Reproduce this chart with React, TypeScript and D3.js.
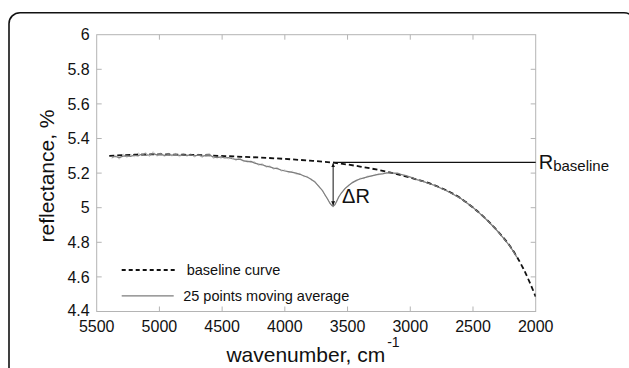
import { useEffect, useRef } from "react";
import * as d3 from "d3";

// wavenumber grid (cm^-1) for the averaged spectrum
const avgWn = [
    5380, 5350, 5320, 5290, 5260, 5230, 5200, 5170, 5140, 5110, 5080, 5050, 5020, 4990, 4960, 4930, 4900, 4870, 4840, 4810,
    4780, 4750, 4720, 4690, 4660, 4630, 4600, 4570, 4540, 4510, 4480, 4450, 4420, 4390, 4360, 4330, 4300, 4270, 4240, 4210,
    4180, 4150, 4120, 4090, 4060, 4030, 4000, 3970, 3940, 3910, 3880, 3850, 3820, 3790, 3760, 3730, 3700, 3680, 3660, 3640,
    3625, 3615, 3600, 3585, 3570, 3550, 3520, 3490, 3460, 3430, 3400, 3370, 3340, 3310, 3280, 3250, 3220, 3190, 3160, 3130,
    3100, 3070, 3040, 3010, 2980, 2950, 2900, 2850, 2800, 2750, 2700, 2650, 2600, 2550, 2500, 2450, 2400, 2350, 2300, 2250,
    2200, 2150,
];

// 25 points moving average, reflectance %
const avgR = [
    5.292, 5.296, 5.290, 5.298, 5.300, 5.297, 5.303, 5.300, 5.310, 5.302, 5.306, 5.312, 5.305, 5.308, 5.303, 5.307, 5.304, 5.308, 5.302, 5.306,
    5.303, 5.305, 5.300, 5.304, 5.298, 5.301, 5.304, 5.293, 5.290, 5.294, 5.288, 5.290, 5.283, 5.279, 5.281, 5.272, 5.266, 5.268, 5.258, 5.252,
    5.248, 5.240, 5.236, 5.229, 5.226, 5.218, 5.212, 5.209, 5.204, 5.200, 5.193, 5.185, 5.176, 5.165, 5.148, 5.125, 5.098, 5.075, 5.050, 5.026,
    5.012, 5.008, 5.018, 5.040, 5.062, 5.085, 5.110, 5.130, 5.145, 5.158, 5.166, 5.172, 5.178, 5.184, 5.188, 5.194, 5.196, 5.201, 5.202, 5.200,
    5.198, 5.192, 5.186, 5.180, 5.172, 5.163, 5.152, 5.140, 5.127, 5.111, 5.094, 5.075, 5.054, 5.029, 5.001, 4.970, 4.936, 4.900, 4.861, 4.818,
    4.772, 4.714,
];

// raw (unsmoothed) reflectance on the same grid
const rawR = [
    5.283, 5.305, 5.280, 5.311, 5.290, 5.308, 5.294, 5.317, 5.301, 5.320, 5.295, 5.324, 5.297, 5.317, 5.294, 5.316, 5.298, 5.315, 5.293, 5.313,
    5.296, 5.314, 5.292, 5.311, 5.289, 5.309, 5.314, 5.284, 5.298, 5.285, 5.297, 5.282, 5.291, 5.272, 5.289, 5.265, 5.274, 5.260, 5.266, 5.244,
    5.256, 5.233, 5.243, 5.222, 5.233, 5.211, 5.219, 5.202, 5.211, 5.193, 5.199, 5.179, 5.182, 5.158, 5.154, 5.119, 5.103, 5.070, 5.055, 5.021,
    5.015, 5.003, 5.022, 5.036, 5.067, 5.081, 5.115, 5.126, 5.150, 5.154, 5.171, 5.168, 5.183, 5.180, 5.193, 5.190, 5.201, 5.197, 5.206, 5.196,
    5.202, 5.189, 5.189, 5.177, 5.175, 5.160, 5.155, 5.137, 5.129, 5.108, 5.097, 5.072, 5.057, 5.026, 5.004, 4.967, 4.939, 4.897, 4.864, 4.815,
    4.775, 4.711,
];

// fitted baseline curve
const baseWn = [5400, 5200, 5000, 4800, 4600, 4400, 4200, 4000, 3800, 3600, 3400, 3200, 3000, 2800, 2600, 2500, 2400, 2300, 2200, 2100, 2000];
const baseR = [5.300, 5.306, 5.308, 5.306, 5.302, 5.296, 5.290, 5.282, 5.272, 5.259, 5.238, 5.210, 5.174, 5.128, 5.055, 5.001, 4.937, 4.862, 4.773, 4.650, 4.486];

const xTicks = [5500, 5000, 4500, 4000, 3500, 3000, 2500, 2000];
const yTicks = [4.4, 4.6, 4.8, 5, 5.2, 5.4, 5.6, 5.8, 6];

// ΔR marker
const peakWn = 3615;
const peakR = 5.008;
const peakBaseR = 5.262;

const FONT = "'Liberation Sans', Arial, Helvetica, sans-serif";

export default function App ()
{
    const svgRef = useRef<SVGSVGElement>( null );

    useEffect( () =>
    {
        if ( !svgRef.current ) return;
        const svg = d3.select( svgRef.current );
        svg.selectAll( "*" ).remove();

        const W = 629, H = 368;
        const m = { top: 34.7, right: W - 535.7, bottom: H - 311.5, left: 96.7 };
        const w = W - m.left - m.right;
        const h = H - m.top - m.bottom;

        // outer rounded frame
        svg.append( "rect" ).attr( "x", 9 ).attr( "y", 12.7 ).attr( "width", 626 ).attr( "height", 420 )
            .attr( "rx", 11 ).attr( "fill", "#fff" ).attr( "stroke", "#111" ).attr( "stroke-width", 1.6 );

        const g = svg.append( "g" ).attr( "transform", `translate(${ m.left },${ m.top })` );

        const x = d3.scaleLinear().domain( [ 5500, 2000 ] ).range( [ 0, w ] );
        const y = d3.scaleLinear().domain( [ 4.4, 6 ] ).range( [ h, 0 ] );

        const defs = svg.append( "defs" );
        defs.append( "clipPath" ).attr( "id", "plot" ).append( "rect" ).attr( "width", w ).attr( "height", h );
        defs.append( "marker" ).attr( "id", "arr" ).attr( "viewBox", "0 0 10 10" ).attr( "refX", 10 ).attr( "refY", 5 )
            .attr( "markerWidth", 4 ).attr( "markerHeight", 4 ).attr( "orient", "auto-start-reverse" )
            .append( "path" ).attr( "d", "M0,0L10,5L0,10z" ).attr( "fill", "#111" );

        // frame box + inward ticks
        const axisColor = "#b4b4b4";
        g.append( "rect" ).attr( "width", w ).attr( "height", h ).attr( "fill", "none" ).attr( "stroke", axisColor ).attr( "stroke-width", 1 );
        const tl = 5;
        g.append( "g" ).selectAll( "line" ).data( xTicks.slice( 1, -1 ) ).join( "line" )
            .attr( "x1", ( d ) => x( d ) ).attr( "x2", ( d ) => x( d ) ).attr( "y1", h ).attr( "y2", h - tl )
            .attr( "stroke", axisColor );
        g.append( "g" ).selectAll( "line" ).data( xTicks.slice( 1, -1 ) ).join( "line" )
            .attr( "x1", ( d ) => x( d ) ).attr( "x2", ( d ) => x( d ) ).attr( "y1", 0 ).attr( "y2", tl )
            .attr( "stroke", axisColor );
        g.append( "g" ).selectAll( "line" ).data( yTicks.slice( 1, -1 ) ).join( "line" )
            .attr( "x1", 0 ).attr( "x2", tl ).attr( "y1", ( d ) => y( d ) ).attr( "y2", ( d ) => y( d ) )
            .attr( "stroke", axisColor );
        g.append( "g" ).selectAll( "line" ).data( yTicks.slice( 1, -1 ) ).join( "line" )
            .attr( "x1", w ).attr( "x2", w - tl ).attr( "y1", ( d ) => y( d ) ).attr( "y2", ( d ) => y( d ) )
            .attr( "stroke", axisColor );

        // tick labels
        g.append( "g" ).selectAll( "text" ).data( yTicks ).join( "text" )
            .attr( "x", -7 ).attr( "y", ( d ) => y( d ) + ( d === 4.4 ? -1 : 0 ) ).attr( "dy", "0.36em" )
            .attr( "text-anchor", "end" ).attr( "font-size", 16 ).attr( "font-family", FONT ).attr( "fill", "#111" )
            .text( ( d ) => d3.format( "~g" )( d ) );
        g.append( "g" ).selectAll( "text" ).data( xTicks ).join( "text" )
            .attr( "x", ( d ) => x( d ) ).attr( "y", h + 21 )
            .attr( "text-anchor", "middle" ).attr( "font-size", 16 ).attr( "font-family", FONT ).attr( "fill", "#111" )
            .text( ( d ) => d );

        const pts = ( wn: number[], r: number[] ) => wn.map( ( d, i ) => [ d, r[ i ] ] as [ number, number ] );
        const line = d3.line<[ number, number ]>().x( ( d ) => x( d[ 0 ] ) ).y( ( d ) => y( d[ 1 ] ) );

        const plot = g.append( "g" ).attr( "clip-path", "url(#plot)" );

        // raw spectrum
        plot.append( "path" ).attr( "d", line( pts( avgWn, rawR ) ) )
            .attr( "fill", "none" ).attr( "stroke", "#c6c6c6" ).attr( "stroke-width", 0.9 );

        // baseline curve
        plot.append( "path" ).attr( "d", line.curve( d3.curveMonotoneX )( pts( baseWn, baseR ) ) )
            .attr( "fill", "none" ).attr( "stroke", "#111" ).attr( "stroke-width", 1.8 ).attr( "stroke-dasharray", "5,3" );

        // moving average
        plot.append( "path" ).attr( "d", line.curve( d3.curveLinear )( pts( avgWn, avgR ) ) )
            .attr( "fill", "none" ).attr( "stroke", "#7d7d7d" ).attr( "stroke-width", 1.2 );

        // R baseline level line
        g.append( "line" ).attr( "x1", x( peakWn ) ).attr( "x2", w ).attr( "y1", y( peakBaseR ) ).attr( "y2", y( peakBaseR ) )
            .attr( "stroke", "#111" ).attr( "stroke-width", 1.1 );

        // ΔR arrow
        g.append( "line" ).attr( "x1", x( peakWn ) ).attr( "x2", x( peakWn ) ).attr( "y1", y( peakBaseR ) + 1 ).attr( "y2", y( peakR ) - 1 )
            .attr( "stroke", "#111" ).attr( "stroke-width", 1 )
            .attr( "marker-start", "url(#arr)" ).attr( "marker-end", "url(#arr)" );

        g.append( "text" ).attr( "x", x( peakWn ) + 9 ).attr( "y", y( peakR ) - 3 )
            .attr( "font-size", 20 ).attr( "font-family", FONT ).attr( "fill", "#111" ).text( "ΔR" );

        const rb = g.append( "text" ).attr( "x", w + 3 ).attr( "y", y( peakBaseR ) + 7 )
            .attr( "font-size", 20 ).attr( "font-family", FONT ).attr( "fill", "#111" );
        rb.append( "tspan" ).text( "R" );
        rb.append( "tspan" ).attr( "font-size", 15 ).attr( "dy", 2 ).text( "baseline" );

        // legend
        const lg = g.append( "g" ).attr( "font-family", FONT ).attr( "font-size", 14.5 ).attr( "fill", "#111" );
        const ly1 = y( 4.64 ), ly2 = y( 4.49 );
        lg.append( "line" ).attr( "x1", 25 ).attr( "x2", 78 ).attr( "y1", ly1 ).attr( "y2", ly1 )
            .attr( "stroke", "#111" ).attr( "stroke-width", 1.8 ).attr( "stroke-dasharray", "4,3" );
        lg.append( "text" ).attr( "x", 90 ).attr( "y", ly1 + 5.5 ).text( "baseline curve" );
        lg.append( "line" ).attr( "x1", 25 ).attr( "x2", 77 ).attr( "y1", ly2 ).attr( "y2", ly2 )
            .attr( "stroke", "#7d7d7d" ).attr( "stroke-width", 1.3 );
        lg.append( "text" ).attr( "x", 86.5 ).attr( "y", ly2 + 5 ).text( "25 points moving average" );

        // axis titles
        const xt = svg.append( "text" ).attr( "x", 313 ).attr( "y", 361.5 ).attr( "text-anchor", "middle" )
            .attr( "font-size", 21 ).attr( "font-family", FONT ).attr( "fill", "#111" );
        xt.append( "tspan" ).text( "wavenumber, cm" );
        xt.append( "tspan" ).attr( "font-size", 14 ).attr( "dx", 2 ).attr( "dy", -15 ).text( "-1" );

        svg.append( "text" ).attr( "transform", `translate(54,176) rotate(-90)` ).attr( "text-anchor", "middle" )
            .attr( "font-size", 21 ).attr( "font-family", FONT ).attr( "fill", "#111" ).text( "reflectance, %" );
    }, [] );

    return (
        <svg ref={ svgRef } width={ 629 } height={ 368 }
            style={ { position: "absolute", left: 0, top: 0, display: "block", background: "#fff" } } />
    );
}
